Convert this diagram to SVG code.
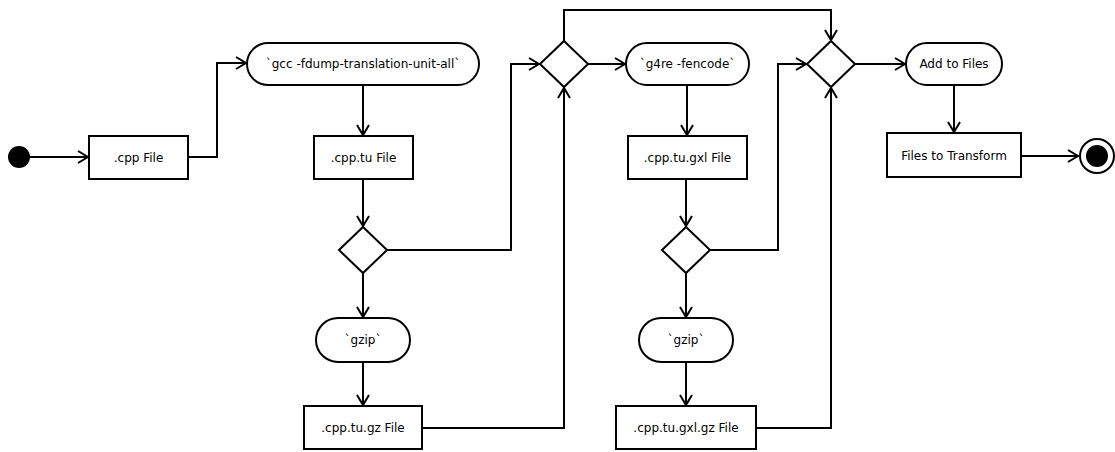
<svg xmlns="http://www.w3.org/2000/svg" width="1115" height="452" viewBox="0 0 1115 452">
<style>
.n{fill:#fff;stroke:#000;stroke-width:2}
.t{font-family:"DejaVu Sans",sans-serif;font-size:12px;fill:#000;text-anchor:middle}
.c{fill:none;stroke:#000;stroke-width:2;marker-end:url(#arr)}
.cn{fill:none;stroke:#000;stroke-width:2}
</style>
<defs>
<marker id="arr" markerWidth="14" markerHeight="16" refX="12" refY="8" orient="auto" markerUnits="userSpaceOnUse">
<path d="M2,2 L12,8 L2,14" fill="none" stroke="#000" stroke-width="2"/>
</marker>
</defs>
<rect width="1115" height="452" fill="#fff"/>
<g id="connectors">
<path class="c" d="M30,157 H88"/>
<path class="c" d="M188,157 H217 V63 H246"/>
<path class="c" d="M363,85 V135"/>
<path class="c" d="M363,179 V226"/>
<path class="c" d="M387,250 H511 V64 H539"/>
<path class="c" d="M363,273 V317"/>
<path class="c" d="M363,362 V405"/>
<path class="c" d="M422,428 H564 V88"/>
<path class="c" d="M588,64 H625"/>
<path class="c" d="M564,41 V10 H831 V40"/>
<path class="c" d="M687,85 V135"/>
<path class="c" d="M686,179 V226"/>
<path class="c" d="M710,250 H778 V64 H806"/>
<path class="c" d="M686,273 V317"/>
<path class="c" d="M686,362 V405"/>
<path class="c" d="M756,428 H831 V88"/>
<path class="c" d="M855,64 H905"/>
<path class="c" d="M954,85 V132"/>
<path class="c" d="M1021,156 H1078"/>
</g>
<g id="start"><circle cx="19" cy="157" r="11" fill="#000"/></g>
<g id="cppFile"><rect class="n" x="89" y="136" width="99" height="43"/><text class="t" x="138.5" y="162">.cpp File</text></g>
<g id="gcc"><rect class="n" x="247" y="43" width="232" height="42" rx="21"/><text class="t" x="363" y="68">`gcc -fdump-translation-unit-all`</text></g>
<g id="cpptuFile"><rect class="n" x="314" y="136" width="99" height="43"/><text class="t" x="363.5" y="162">.cpp.tu File</text></g>
<g id="decision1"><polygon class="n" points="363,227 387,250 363,273 339,250"/></g>
<g id="gzip1"><rect class="n" x="316" y="318" width="94" height="44" rx="22"/><text class="t" x="363" y="344">`gzip`</text></g>
<g id="cpptugzFile"><rect class="n" x="304" y="406" width="118" height="43"/><text class="t" x="363" y="432">.cpp.tu.gz File</text></g>
<g id="decision2"><polygon class="n" points="564,41 588,64 564,87 540,64"/></g>
<g id="g4re"><rect class="n" x="626" y="43" width="123" height="42" rx="21"/><text class="t" x="687.5" y="68">`g4re -fencode`</text></g>
<g id="cpptugxlFile"><rect class="n" x="628" y="136" width="119" height="43"/><text class="t" x="687.5" y="162">.cpp.tu.gxl File</text></g>
<g id="decision4"><polygon class="n" points="686,227 710,250 686,273 662,250"/></g>
<g id="gzip2"><rect class="n" x="639" y="318" width="94" height="44" rx="22"/><text class="t" x="686" y="344">`gzip`</text></g>
<g id="cpptugxlgzFile"><rect class="n" x="616" y="406" width="140" height="43"/><text class="t" x="686" y="432">.cpp.tu.gxl.gz File</text></g>
<g id="decision3"><polygon class="n" points="831,41 855,64 831,87 807,64"/></g>
<g id="addToFiles"><rect class="n" x="906" y="43" width="96" height="42" rx="21"/><text class="t" x="954" y="68">Add to Files</text></g>
<g id="filesToTransform"><rect class="n" x="887" y="133" width="134" height="44"/><text class="t" x="954" y="160">Files to Transform</text></g>
<g id="end"><circle cx="1097" cy="156" r="17" fill="#fff" stroke="#000" stroke-width="2"/><circle cx="1097" cy="156" r="11" fill="#000"/></g>
</svg>
